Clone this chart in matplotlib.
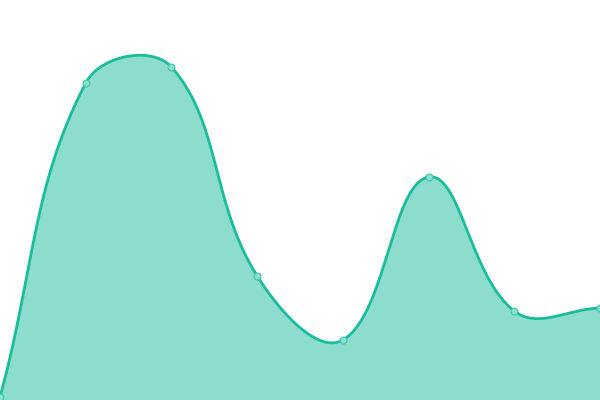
import numpy as np
import matplotlib
matplotlib.use("Agg")
import matplotlib.pyplot as plt

labels = ["A", "B", "C", "D", "E", "F", "G", "H"]
values = [3, 317, 333, 124, 60, 223, 89, 92]

line_color = "#1abc9c"
fill_color = (26/255, 188/255, 156/255, 0.5)
tension = 0.4

fig = plt.figure(figsize=(6, 4), dpi=100)
ax = fig.add_axes([0, 0, 1, 1])
x = np.arange(len(values))
ax.set_xlim(0, len(values) - 1)
ax.set_ylim(0, 400)
ax.axis("off")

# Chart.js-style spline computed in display space
pts = ax.transData.transform(np.column_stack([x, values]))
n = len(pts)
cps = []
for i in range(n):
    prev = pts[i - 1] if i > 0 else pts[i]
    cur = pts[i]
    nxt = pts[i + 1] if i < n - 1 else pts[i]
    d01 = np.hypot(*(cur - prev))
    d12 = np.hypot(*(nxt - cur))
    s = d01 + d12
    fa = tension * d01 / s if s else 0
    fb = tension * d12 / s if s else 0
    cps.append((cur - fa * (nxt - prev), cur + fb * (nxt - prev)))

curve = [pts[0]]
tt = np.linspace(0, 1, 60)[1:, None]
for i in range(n - 1):
    p0 = pts[i]; p1 = cps[i][1]; p2 = cps[i + 1][0]; p3 = pts[i + 1]
    seg = ((1 - tt) ** 3) * p0 + 3 * ((1 - tt) ** 2) * tt * p1 + 3 * (1 - tt) * tt ** 2 * p2 + tt ** 3 * p3
    curve.extend(seg)
curve = np.array(curve)
cd = ax.transData.inverted().transform(curve)

ax.fill_between(cd[:, 0], cd[:, 1], 0, color=fill_color, linewidth=0)
ax.plot(cd[:, 0], cd[:, 1], color=line_color, linewidth=2.0, solid_capstyle="round")
ax.plot(x, values, "o", markersize=5, markerfacecolor="#8ae0cf",
        markeredgecolor="#3cc7a9", markeredgewidth=0.8)

fig.savefig("out.png", dpi=100)
